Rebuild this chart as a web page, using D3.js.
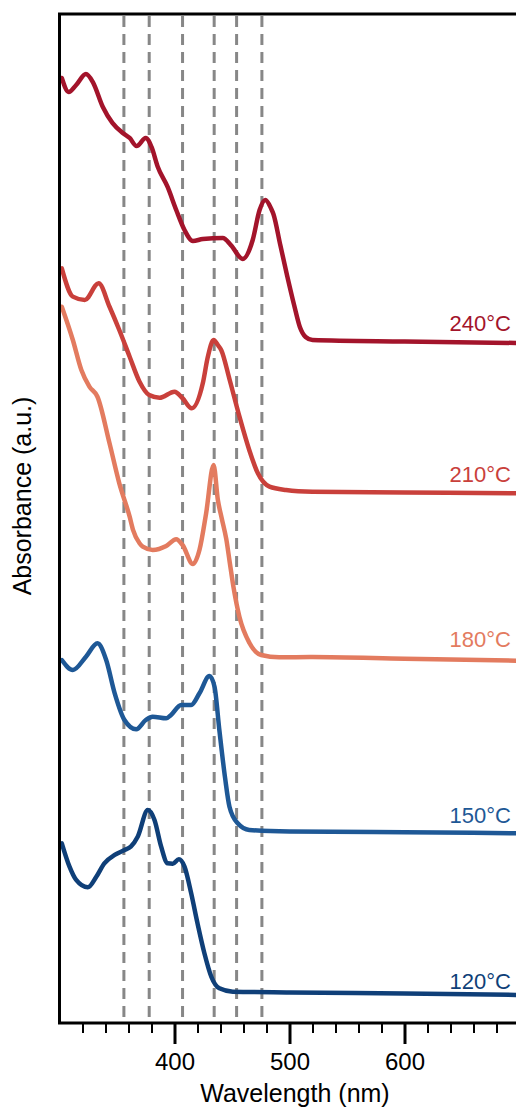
<!DOCTYPE html>
<html>
<head>
<meta charset="utf-8">
<script src="https://cdn.jsdelivr.net/npm/d3@7"></script>
<style>
    body { margin: 0; background: #fff; }
    svg text { font-family: Arial, "Liberation Sans", sans-serif; }
</style>
</head>
<body>
<div id="chart"></div>
<script>
// spectra: [wavelength (nm), stacked absorbance (a.u.)]
const spectrum240 = [
    [302, 93.65], [308, 92.26], [314.5, 92.96], [323, 94.05], [329, 93.25],
    [337.7, 90.77], [346, 89.19], [355, 88.19], [361, 87.7], [367, 86.9],
    [375, 87.7], [380, 86.81], [385.5, 84.82], [394, 82.84], [401.5, 80.56],
    [408.7, 78.57], [416, 77.48], [424.6, 77.68], [442, 77.78], [449, 77.08],
    [459.4, 75.69], [468, 77.58], [474, 80.56], [479, 81.55], [484, 80.7],
    [486, 80.16], [492, 77.08], [498, 74.01], [504, 71.13], [509, 68.95],
    [514, 67.96], [520, 67.66], [600, 67.51], [700, 67.36]
];
const spectrum210 = [
    [302, 74.77], [311.6, 71.96], [322, 71.63], [334, 73.28], [343.5, 70.96],
    [352, 68.65], [361, 66.0], [369.6, 63.52], [378, 62.2], [387, 61.93],
    [400, 62.53], [407, 61.88], [415, 60.88], [424.6, 63.36], [429, 66.0],
    [434, 67.66], [437.7, 67.16], [440.6, 66.67], [448, 63.69], [456.5, 60.05],
    [465, 56.75], [472.5, 54.43], [482.6, 53.11], [497, 52.78], [520, 52.61],
    [600, 52.53], [700, 52.45]
];
const spectrum180 = [
    [302, 70.96], [311.6, 67.66], [319, 64.68], [326, 63.03], [333, 62.03],
    [343.5, 57.41], [352, 53.44], [361, 50.13], [364, 48.8], [369.6, 47.49],
    [372.4, 47.15], [381, 46.83], [392.8, 47.22], [401.5, 47.89], [407, 47.32],
    [416, 45.44], [421.7, 46.83], [427.5, 50.47], [434, 55.26], [437.7, 51.79],
    [441, 50.0], [445, 47.92], [448, 45.63], [451, 43.35], [456.5, 40.18],
    [465.2, 37.6], [475.4, 36.41], [491, 36.18], [520, 36.21], [600, 36.04],
    [700, 35.84]
];
const spectrum150 = [
    [302, 35.91], [311.6, 34.92], [323, 36.24], [333, 37.57], [340.6, 35.91],
    [348, 32.61], [356.5, 29.96], [366.7, 29.04], [375, 29.96], [381, 30.29],
    [392.8, 30.13], [397, 30.46], [405.8, 31.45], [414.5, 31.45], [421.7, 32.61],
    [430.4, 34.33], [434.8, 33.26], [439, 28.97], [444, 24.2], [447.8, 21.36],
    [455, 19.71], [465, 19.05], [500, 18.9], [600, 18.82], [700, 18.72]
];
const spectrum120 = [
    [302, 17.73], [308.7, 15.41], [314.5, 14.09], [324.6, 13.36], [332, 14.41],
    [339, 15.74], [348, 16.57], [356.5, 17.06], [362, 17.39], [368, 18.38],
    [376.8, 21.03], [382.6, 20.04], [388.4, 17.39], [394, 15.74], [398.5, 15.7],
    [403.8, 16.14], [408.7, 15.41], [414.5, 12.77], [420, 9.79], [426, 6.82],
    [432, 4.49], [439, 3.34], [450.7, 3.01], [500, 2.93], [600, 2.83], [700, 2.68]
];

const seriesLabels = ['240°C', '210°C', '180°C', '150°C', '120°C'];
const seriesData = [spectrum240, spectrum210, spectrum180, spectrum150, spectrum120];
const seriesColors = ['#a3142b', '#c9403b', '#e37b5f', '#1e5896', '#0f3f78'];
// label heights in the same absorbance units
const labelLevels = [68.55, 53.57, 37.2, 19.74, 3.27];

const peakLines = [356, 378, 407, 434.5, 454, 476];
const majorTicks = [400, 500, 600];
const minorTicks = d3.range(320, 700, 20).filter(v => v % 100 !== 0);

const width = 516;
const height = 1110;
const plot = { left: 59.5, right: 519.5, top: 14, bottom: 1023 };

const x = d3.scaleLinear().domain([300, 700]).range([plot.left, plot.right]);
const y = d3.scaleLinear().domain([0, 100]).range([1022, 14]);

const svg = d3.select('#chart')
    .append('svg')
    .attr('width', width)
    .attr('height', height);

svg.append('defs').append('clipPath')
    .attr('id', 'plotClip')
    .append('rect')
    .attr('x', plot.left)
    .attr('y', plot.top)
    .attr('width', plot.right - plot.left)
    .attr('height', plot.bottom - plot.top);

// dashed reference lines
svg.append('g')
    .selectAll('line')
    .data(peakLines)
    .enter()
    .append('line')
    .attr('x1', d => x(d))
    .attr('x2', d => x(d))
    .attr('y1', plot.top + 2)
    .attr('y2', plot.bottom)
    .attr('stroke', '#878787')
    .attr('stroke-width', 3)
    .attr('stroke-dasharray', '11,7');

const line = d3.line()
    .x(d => x(d[0]))
    .y(d => y(d[1]))
    .curve(d3.curveMonotoneX);

svg.append('g')
    .attr('clip-path', 'url(#plotClip)')
    .selectAll('path')
    .data(seriesData)
    .enter()
    .append('path')
    .attr('d', line)
    .attr('fill', 'none')
    .attr('stroke', (d, i) => seriesColors[i])
    .attr('stroke-width', 4.5)
    .attr('stroke-linejoin', 'round')
    .attr('stroke-linecap', 'round');

svg.append('g')
    .selectAll('text')
    .data(seriesLabels)
    .enter()
    .append('text')
    .attr('x', 511)
    .attr('y', (d, i) => y(labelLevels[i]))
    .attr('text-anchor', 'end')
    .attr('fill', (d, i) => seriesColors[i])
    .style('font-size', '22px')
    .text(d => d);

// frame
svg.append('rect')
    .attr('x', plot.left)
    .attr('y', plot.top)
    .attr('width', plot.right - plot.left)
    .attr('height', plot.bottom - plot.top)
    .attr('fill', 'none')
    .attr('stroke', '#000')
    .attr('stroke-width', 3);

const minorAxis = svg.append('g')
    .attr('transform', `translate(0,${plot.bottom})`)
    .call(d3.axisBottom(x).tickValues(minorTicks).tickSize(10).tickFormat(''));

const majorAxis = svg.append('g')
    .attr('transform', `translate(0,${plot.bottom})`)
    .call(d3.axisBottom(x).tickValues(majorTicks).tickSize(21).tickPadding(9));

minorAxis.select('.domain').remove();
majorAxis.select('.domain').remove();
minorAxis.selectAll('line').attr('stroke', '#000').attr('stroke-width', 2);
majorAxis.selectAll('line').attr('stroke', '#000').attr('stroke-width', 3);
majorAxis.selectAll('text')
    .attr('fill', '#000')
    .style('font-size', '24px')
    .style('font-family', 'Arial, "Liberation Sans", sans-serif');

svg.append('text')
    .attr('x', 295)
    .attr('y', 1102)
    .attr('text-anchor', 'middle')
    .style('font-size', '25px')
    .text('Wavelength (nm)');

svg.append('text')
    .attr('transform', 'translate(31,496) rotate(-90)')
    .attr('text-anchor', 'middle')
    .style('font-size', '25px')
    .text('Absorbance (a.u.)');
</script>
</body>
</html>
